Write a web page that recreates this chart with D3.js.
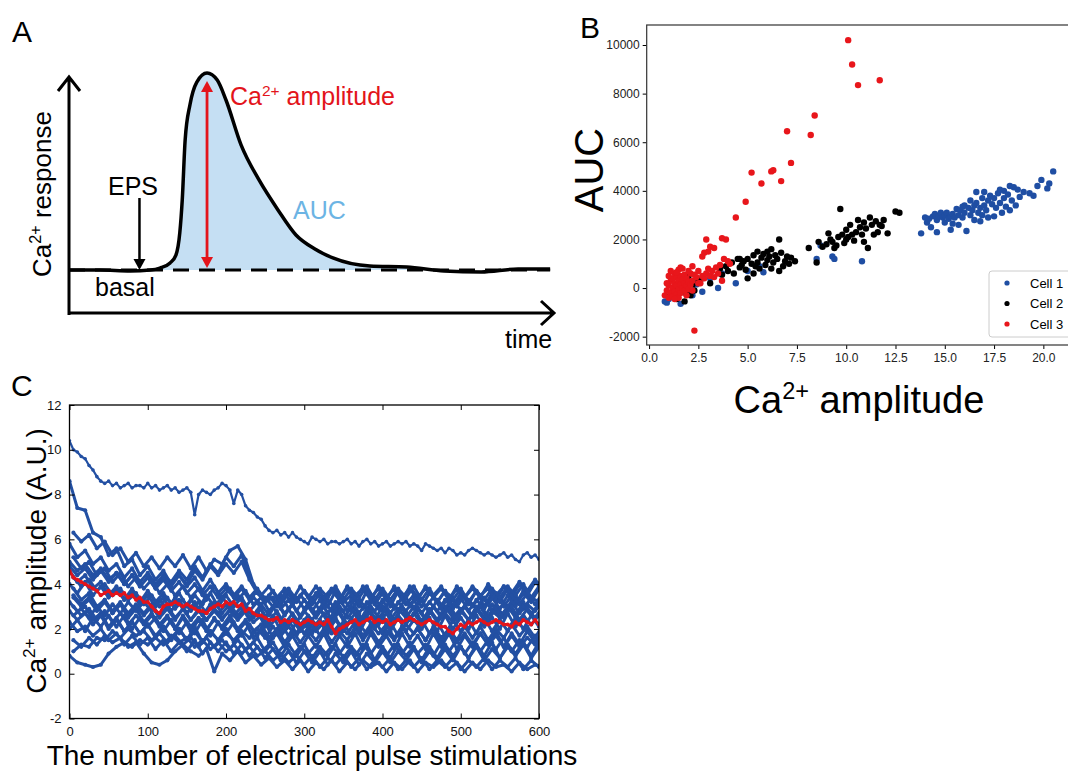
<!DOCTYPE html>
<html><head><meta charset="utf-8">
<script src="https://cdn.jsdelivr.net/npm/d3@7"></script>
<style>body{margin:0;background:#fff} svg{display:block;font-family:Arial,"Liberation Sans",sans-serif}</style>
</head><body><svg id="fig" width="1068" height="774"></svg>
<script>
// ---------- Panel A: schematic Ca2+ transient ----------
const timeA = [0,6.4,12.6,16.7,18.7,20.8,22.0,22.8,23.3,23.9,24.9,26.3,28.4,30.5,32.3,35.4,39.1,43.0,46.7,50.6,54.3,61.9,69.5,77.2,84.8,92.4,99];
const respA = [0,0,-0.005,0,0.01,0.036,0.076,0.19,0.355,0.66,0.84,0.954,1.0,0.964,0.863,0.635,0.457,0.305,0.178,0.107,0.061,0.02,0.015,-0.005,-0.01,0.005,0.005];

// ---------- Panel B: AUC vs amplitude ----------
const cellNames = ["Cell 1","Cell 2","Cell 3"];
const cellColors = ["#1f4ea3","#000000","#e8161b"];
const cell1 = [[13.8,2250],[14.0,2900],[14.1,2700],[14.2,2850],[14.3,2500],[14.4,2950],[14.5,3050],[14.6,2800],[14.6,2300],[14.7,2950],[14.8,3100],[14.9,2900],[15.0,3000],[15.0,2700],[15.1,3100],[15.2,2850],[15.3,2950],[15.3,2400],[15.4,3050],[15.5,2900],[15.6,3250],[15.7,3000],[15.7,2600],[15.8,3200],[15.9,2900],[16.0,3100],[16.0,3400],[16.1,2350],[16.2,3300],[16.3,3000],[16.3,3600],[16.4,3200],[16.5,3400],[16.5,2800],[16.6,3500],[16.6,3950],[16.7,3100],[16.8,3300],[16.8,2750],[16.9,3700],[17.0,3400],[17.0,3950],[17.1,3200],[17.2,3600],[17.3,3800],[17.4,3450],[17.5,3700],[17.5,2950],[17.6,3300],[17.7,3900],[17.8,3500],[17.9,3100],[18.0,3700],[18.0,4000],[18.1,3350],[18.2,3850],[18.3,4200],[18.4,3600],[18.5,4150],[18.6,3400],[18.7,4050],[19.0,3950],[19.3,3900],[19.5,3800],[19.7,4200],[19.9,4450],[20.2,4100],[20.3,4300],[20.5,4800],[18.3,3200],[17.2,2900],[16.9,3000],[15.9,3350],[15.4,2650],[18.8,3750],[17.8,4050],
 [0.8,-550],[0.9,-600],[1.0,-450],[1.2,-300],[1.6,-650],[2.1,-200],[2.4,150],[2.7,-150],[3.5,0],[3.7,600],[4.4,200],[5.0,700],[5.6,900],[5.8,650],[8.5,1200],[8.7,1750],[9.3,1300],[9.4,1200],[10.8,1100],[1.4,-400],[1.8,-100],[2.2,-300],[3.1,400]];
const cell2 = [[1.0,-350],[1.2,-200],[1.4,-450],[1.5,-100],[1.7,200],[1.8,-550],[1.9,0],[2.0,500],[2.1,-300],[2.2,150],[2.3,-100],[2.5,300],[2.7,400],[1.6,350],[1.3,50],[1.9,-250],[3.1,200],[3.6,800],[3.7,550],[4.0,700],[4.2,1050],[4.3,600],[4.5,1200],[4.6,850],[4.7,950],[4.8,1100],[4.9,750],[5.0,400],[5.0,1200],[5.2,1000],[5.3,1350],[5.4,900],[5.5,1500],[5.5,1050],[5.6,800],[5.7,1250],[5.8,1400],[5.9,950],[6.0,1150],[6.1,1300],[6.2,1600],[6.2,800],[6.3,1050],[6.4,1350],[6.5,1200],[6.6,2000],[6.6,700],[6.7,1450],[6.8,900],[6.9,1100],[7.0,1300],[7.1,1000],[7.2,1250],[7.4,1100],[6.0,1500],[5.3,600],[4.6,1200],[3.9,900],[8.1,1650],[8.5,1050],[8.6,1900],[8.8,1700],[9.0,1800],[9.1,2250],[9.2,2000],[9.3,1900],[9.5,1750],[9.6,2100],[9.7,3250],[9.8,2200],[9.9,1850],[10.0,2400],[10.1,2100],[10.2,2600],[10.3,2200],[10.4,1950],[10.5,2300],[10.6,2800],[10.7,2500],[10.8,2200],[10.9,2700],[11.0,2450],[11.1,1650],[11.2,2900],[11.3,2600],[11.4,2200],[11.5,2750],[11.6,2300],[11.8,2550],[11.9,2800],[12.1,2250],[12.5,3150],[12.7,3100],[10.0,2000],[9.4,1650],[11.7,2600],[10.9,1900]];
const cell3 = [[0.8,-300],[0.9,-100],[1.0,-400],[1.0,100],[1.1,-200],[1.1,300],[1.2,0],[1.2,-350],[1.2,400],[1.3,-150],[1.3,200],[1.3,600],[1.4,-250],[1.4,100],[1.4,450],[1.5,-50],[1.5,300],[1.5,-400],[1.6,150],[1.6,500],[1.6,-200],[1.7,350],[1.7,0],[1.7,800],[1.8,200],[1.8,-100],[1.8,550],[1.9,100],[1.9,400],[2.0,250],[2.0,-50],[2.1,600],[2.1,150],[2.2,900],[2.2,300],[2.3,-1750],[2.4,450],[2.5,700],[2.6,200],[2.7,500],[2.8,400],[2.9,600],[3.0,800],[3.1,500],[3.2,700],[3.4,850],[3.5,600],[3.6,950],[3.7,300],[3.8,1200],[4.0,1100],[4.1,1000],[2.8,1450],[3.0,1500],[3.1,1700],[3.3,1650],[2.7,1300],[2.9,2000],[3.7,2050],[3.9,2000],[4.4,2900],[4.9,3550],[5.2,4750],[5.7,4300],[6.2,4800],[6.3,4850],[6.7,4400],[7.0,6450],[7.2,5150],[8.2,6300],[8.4,7100],[10.1,10200],[10.3,9200],[10.6,8350],[11.7,8550],[1.1,700],[1.3,-450],[1.5,750],[1.9,-300],[2.0,700],[1.4,650],[1.0,500],[0.9,200],[1.6,850],[2.3,550],[2.5,200],[3.3,450],[2.2,-100]];
const xTicksB = [0,2.5,5,7.5,10,12.5,15,17.5,20];
const yTicksB = [-2000,0,2000,4000,6000,8000,10000];

// ---------- Panel C: amplitude over pulses ----------
const topTrace = [10.4,10.0,9.9,9.7,9.6,9.3,9.1,8.8,8.6,8.5,8.6,8.4,8.5,8.3,8.4,8.5,8.3,8.4,8.4,8.3,8.5,8.3,8.4,8.2,8.3,8.4,8.2,8.3,8.1,8.2,8.3,8.1,7.1,8.0,8.2,8.1,8.0,8.2,8.3,8.5,8.4,8.2,7.6,8.2,8.0,7.5,7.3,7.2,7.0,6.9,6.6,6.4,6.3,6.4,6.2,6.3,6.1,6.3,6.1,6.0,5.9,5.8,6.1,6.0,5.9,6.0,5.8,5.9,5.9,5.8,5.9,6.0,5.8,5.9,5.7,5.9,6.0,5.8,5.9,5.7,5.8,5.9,5.7,5.8,5.9,5.8,5.9,5.7,5.8,5.7,5.5,5.8,5.7,5.6,5.5,5.6,5.4,5.6,5.5,5.3,5.4,5.3,5.5,5.6,5.5,5.4,5.3,5.4,5.3,5.2,5.3,5.4,5.2,5.3,5.1,5.0,5.3,5.4,5.2,5.3,5.1];
const meanTrace = [4.6,4.3,4.2,4.1,4.0,3.9,3.8,3.7,3.5,3.6,3.7,3.5,3.6,3.5,3.6,3.4,3.5,3.3,3.4,3.2,3.2,3.0,2.8,2.7,3.0,3.1,3.1,3.2,3.1,3.0,3.1,3.0,2.9,2.8,2.8,2.7,2.9,3.0,3.1,3.0,3.2,3.1,3.2,3.0,3.1,2.8,2.9,2.7,2.6,2.6,2.5,2.4,2.4,2.5,2.3,2.4,2.3,2.4,2.3,2.2,2.3,2.4,2.3,2.2,2.3,2.2,2.4,2.1,1.8,2.0,2.1,2.2,2.3,2.4,2.2,2.3,2.4,2.5,2.3,2.4,2.3,2.4,2.2,2.3,2.4,2.3,2.4,2.5,2.4,2.3,2.2,2.3,2.4,2.3,2.2,2.1,2.1,1.9,1.8,2.0,2.2,2.1,2.3,2.2,2.3,2.4,2.3,2.2,2.3,2.4,2.3,2.2,2.2,2.1,2.3,2.2,2.4,2.3,2.2,2.4,2.2];
// each band trace is sampled every 10 pulses, starting at the pulse given in bandStart
const bandStart = [0,5,0,5,0,5,0,5,0,5,0,5,0,5,0,5,0,5,0,5,0];
const bandTraces = [
 [8.6,7.4,7.3,6.3,6.1,5.3,5.6,4.8,5.1,4.4,4.8,4.2,4.6,4.0,4.4,3.9,4.3,3.7,4.2,3.6,4.0,3.5,3.9,3.4,3.8,3.3,3.7,3.1,3.6,3.2,3.7,3.1,3.6,3.0,3.7,3.2,3.5,3.0,3.7,3.1,3.6,3.0,3.7,3.1,3.5,3.0,3.6,3.2,3.7,3.0,3.6,3.1,3.7,3.0,3.6,3.2,3.8,3.1,3.7,3.3,3.8],
 [6.3,5.9,6.2,5.6,5.9,5.3,5.6,5.0,5.4,4.8,5.2,4.7,5.2,4.8,5.3,4.7,5.2,4.6,5.1,4.9,5.5,5.7,5.1,4.0,3.5,3.9,3.4,3.8,3.3,3.9,3.4,3.9,3.4,3.8,3.3,3.9,3.5,3.8,3.3,3.9,3.4,3.8,3.3,3.9,3.4,3.8,3.5,3.9,3.3,3.8,3.4,3.9,3.5,3.8,3.3,3.9,3.4,4.0,3.5,4.1,3.8],
 [5.8,5.2,5.5,4.9,5.2,4.6,4.9,4.3,4.7,4.1,4.5,4.0,4.4,4.1,4.6,4.2,4.8,4.3,4.9,4.5,5.2,4.8,5.3,4.3,3.6,3.4,3.0,3.5,2.9,3.4,2.9,3.4,2.8,3.3,2.9,3.4,2.8,3.3,2.9,3.4,2.8,3.3,2.8,3.4,2.9,3.3,2.7,3.3,2.9,3.4,2.8,3.3,2.9,3.4,2.8,3.4,3.0,3.5,2.9,3.4,3.2],
 [5.2,4.7,5.0,4.4,4.7,4.1,4.5,3.9,4.3,3.8,4.2,3.6,4.0,3.5,3.9,3.4,3.8,3.3,3.9,3.4,3.8,3.3,3.7,3.1,3.4,2.8,3.2,2.6,3.1,2.5,3.0,2.5,3.0,2.4,3.0,2.5,2.9,2.4,3.0,2.5,2.9,2.4,3.0,2.5,2.9,2.4,3.0,2.6,3.1,2.5,3.0,2.6,3.1,2.5,3.0,2.6,3.2,2.7,3.1,2.8,3.2],
 [4.6,4.1,4.4,3.8,4.1,3.5,3.9,3.3,3.6,3.1,3.5,3.0,3.4,2.8,3.3,2.7,3.2,2.6,3.1,2.7,3.1,2.6,3.0,2.4,2.8,2.1,2.6,1.9,2.4,1.8,2.4,1.9,2.4,1.8,2.5,1.9,2.4,1.8,2.5,2.0,2.5,1.9,2.5,1.9,2.4,2.0,2.5,1.9,2.6,2.0,2.5,2.0,2.6,2.1,2.5,2.0,2.7,2.1,2.6,2.2,2.6],
 [3.8,3.3,3.6,3.0,3.3,2.7,3.1,2.5,2.9,2.3,2.7,2.2,2.6,2.0,2.5,1.9,2.4,1.9,2.5,2.0,2.4,1.9,2.3,1.6,2.0,1.4,1.8,1.2,1.7,1.1,1.7,1.2,1.8,1.1,1.7,1.2,1.8,1.1,1.8,1.2,1.7,1.1,1.8,1.2,1.7,1.1,1.8,1.2,1.8,1.1,1.7,1.2,1.8,1.3,1.9,1.2,1.8,1.3,1.9,1.4,1.9],
 [3.2,2.8,3.0,2.4,2.7,2.1,2.5,1.9,2.3,1.8,2.2,1.6,2.1,1.5,2.0,1.5,2.1,1.4,1.9,1.5,2.0,1.4,1.8,1.2,1.6,1.0,1.4,0.8,1.3,0.8,1.3,0.7,1.2,0.8,1.3,0.7,1.2,0.8,1.3,0.6,1.2,0.7,1.3,0.8,1.2,0.6,1.2,0.7,1.3,0.8,1.2,0.7,1.3,0.8,1.4,0.7,1.3,0.9,1.4,0.8,1.4],
 [2.6,2.9,2.5,3.0,2.6,3.1,2.7,3.2,2.8,3.2,2.8,3.3,2.9,3.4,2.9,3.3,2.9,3.5,3.0,3.4,3.0,3.5,3.0,3.4,3.1,3.5,3.0,3.6,3.1,3.5,3.1,3.6,3.2,3.7,3.3,3.8,3.3,3.9,3.4,3.8,3.3,3.9,3.4,3.8,3.3,3.9,3.4,3.8,3.3,3.9,3.4,3.8,3.4,4.0,3.5,3.9,3.6,4.1,3.7,4.2,3.8],
 [2.0,2.4,1.9,2.5,2.1,2.6,2.1,2.6,2.0,2.5,2.1,2.5,1.9,2.4,1.8,2.3,1.8,2.4,1.7,2.3,1.8,2.3,1.7,2.2,1.7,2.3,1.6,2.2,1.7,2.3,1.8,2.3,1.7,2.2,1.8,2.3,1.7,2.2,1.8,2.4,1.8,2.3,1.7,2.2,1.8,2.4,1.8,2.3,1.7,2.4,1.9,2.4,1.8,2.5,1.9,2.4,1.9,2.5,2.0,2.6,2.1],
 [1.0,1.3,1.2,1.6,1.5,1.9,1.6,2.0,1.7,1.9,1.5,1.8,1.4,1.7,1.3,1.6,1.2,1.6,1.2,1.5,1.1,1.5,1.1,1.4,1.0,1.3,0.9,1.3,0.8,1.2,0.9,1.3,0.8,1.2,0.9,1.4,0.8,1.3,0.9,1.4,0.8,1.3,0.9,1.4,0.9,1.3,0.8,1.4,1.0,1.5,0.9,1.4,1.0,1.5,1.1,1.6,1.0,1.5,1.2,1.7,1.3],
 [0.8,0.5,0.4,0.3,0.4,0.9,1.2,1.4,1.2,1.5,1.3,1.6,1.3,1.7,1.4,1.6,1.2,1.5,1.1,1.4,1.0,1.3,0.9,1.2,0.8,1.0,0.6,0.9,0.5,0.8,0.4,0.8,0.3,0.7,0.4,0.8,0.3,0.7,0.2,0.6,0.3,0.7,0.2,0.6,0.3,0.7,0.2,0.6,0.3,0.7,0.2,0.6,0.3,0.7,0.2,0.6,0.3,0.7,0.2,0.6,0.3],
 [1.5,1.2,1.6,1.3,1.7,1.4,1.6,1.2,1.4,0.9,0.5,0.4,0.6,1.0,1.3,1.0,0.8,1.1,0.1,0.9,0.6,1.0,0.5,0.8,0.4,0.7,0.3,0.6,0.2,0.6,0.1,0.5,0.2,0.6,0.1,0.5,0.2,0.6,0.3,0.5,0.1,0.5,0.2,0.6,0.1,0.5,0.3,0.6,0.2,0.5,0.1,0.5,0.2,0.6,0.3,0.4,0.1,0.5,0.2,0.4,0.3],
 [4.0,3.6,4.1,3.5,3.9,3.4,3.8,3.3,3.8,3.2,3.7,3.2,3.6,3.1,3.6,3.0,3.5,3.1,3.6,3.0,3.5,3.0,3.4,2.8,3.2,2.5,3.0,2.4,2.9,2.3,2.8,2.4,2.9,2.3,2.9,2.4,3.0,2.3,2.9,2.4,3.0,2.4,2.9,2.5,3.0,2.3,2.9,2.4,3.0,2.5,2.9,2.4,3.0,2.5,3.1,2.5,3.0,2.6,3.2,2.7,3.1],
 [3.0,2.6,2.9,2.4,2.8,2.3,2.7,2.2,2.6,2.2,2.6,2.1,2.5,2.0,2.6,2.1,2.5,2.0,2.4,2.1,2.6,2.0,2.4,1.9,2.2,1.6,2.0,1.4,1.9,1.4,1.9,1.5,2.0,1.4,1.9,1.5,2.1,1.5,2.0,1.4,1.9,1.5,2.1,1.6,2.0,1.5,2.1,1.6,2.0,1.5,2.1,1.6,2.1,1.5,2.0,1.6,2.2,1.7,2.1,1.6,2.2],
 [5.0,4.6,4.9,4.4,4.7,4.2,4.5,4.0,4.4,3.9,4.3,3.8,4.3,3.9,4.4,4.0,4.6,4.2,4.8,4.4,4.9,4.5,5.0,4.2,3.6,3.2,3.4,2.9,3.3,2.8,3.3,2.8,3.3,2.7,3.2,2.8,3.3,2.7,3.2,2.8,3.3,2.7,3.2,2.8,3.3,2.7,3.2,2.8,3.3,2.9,3.4,2.8,3.3,2.9,3.4,2.9,3.5,3.0,3.6,3.2,3.8],
 [3.5,3.1,3.4,2.9,3.3,2.8,3.2,2.7,3.1,2.7,3.1,2.6,3.0,2.5,2.9,2.4,2.9,2.4,2.8,2.4,2.9,2.5,3.0,2.6,3.1,2.6,3.2,2.7,3.1,2.6,3.1,2.7,3.2,2.8,3.3,2.8,3.4,2.9,3.3,2.9,3.4,2.9,3.4,3.0,3.5,3.0,3.4,2.9,3.5,3.0,3.5,3.0,3.5,3.1,3.6,3.0,3.5,3.1,3.6,3.1,3.6],
 [2.8,2.4,2.7,2.2,2.6,2.0,2.4,1.9,2.3,1.8,2.2,1.7,2.1,1.6,2.0,1.5,1.9,1.4,1.9,1.5,1.8,1.5,1.9,1.6,2.0,1.6,2.1,1.7,2.1,1.7,2.2,1.8,2.3,1.9,2.4,1.9,2.5,2.0,2.5,2.1,2.6,2.1,2.6,2.2,2.7,2.2,2.8,2.3,2.7,2.3,2.8,2.4,2.9,2.4,2.8,2.5,3.0,2.5,3.0,2.6,3.1],
 [4.3,3.9,4.2,3.7,4.0,3.5,3.8,3.3,3.6,3.1,3.5,3.0,3.4,2.9,3.3,2.8,3.2,2.7,3.2,2.7,3.1,2.6,3.0,2.5,2.9,2.3,2.8,2.2,2.7,2.2,2.6,2.2,2.7,2.3,2.8,2.2,2.7,2.3,2.8,2.2,2.7,2.4,2.9,2.4,2.9,2.5,3.0,2.5,2.9,2.4,3.0,2.5,3.0,2.4,2.9,2.5,3.0,2.4,2.9,2.5,3.0],
 [2.3,1.9,2.1,1.7,2.0,1.5,1.8,1.3,1.7,1.3,1.6,1.1,1.5,1.0,1.4,1.0,1.5,0.9,1.4,1.0,1.4,0.9,1.3,0.8,1.2,0.7,1.1,0.6,1.0,0.5,1.0,0.5,1.0,0.4,0.9,0.5,1.0,0.4,0.9,0.5,1.0,0.5,1.0,0.6,1.1,0.5,1.0,0.6,1.1,0.6,1.2,0.7,1.2,0.6,1.1,0.7,1.2,0.8,1.3,0.7,1.2],
 [3.4,3.0,3.3,2.8,3.2,2.7,3.1,2.7,3.0,2.6,3.0,2.5,2.9,2.4,2.9,2.4,2.8,2.4,2.9,2.5,2.8,2.4,2.8,2.3,2.6,2.1,2.5,2.0,2.4,1.9,2.3,1.9,2.3,1.8,2.2,1.8,2.3,1.7,2.2,1.8,2.2,1.6,2.1,1.6,2.0,1.5,2.0,1.4,1.9,1.4,1.8,1.3,1.8,1.3,1.7,1.2,1.7,1.2,1.6,1.3,1.6],
 [4.8,4.4,4.7,4.2,4.6,4.1,4.5,4.0,4.4,3.9,4.3,3.8,4.2,3.7,4.1,3.6,4.0,3.5,3.9,3.4,3.8,3.4,3.8,3.3,3.7,3.2,3.7,3.2,3.8,3.3,3.7,3.3,3.8,3.4,3.9,3.3,3.8,3.4,3.9,3.3,3.8,3.3,3.8,3.4,3.9,3.3,3.8,3.2,3.7,3.3,3.8,3.2,3.7,3.3,3.8,3.4,3.9,3.5,4.0,3.4,3.9]
];
const xTicksC = [0,100,200,300,400,500,600];
const yTicksC = [-2,0,2,4,6,8,10,12];

const svg = d3.select("#fig");
const RED = "#e3141b";

// text with superscripts; the baseline is restored on the following tspan
function supText(g, x, y, parts, opts) {
  const t = g.append("text").attr("x", x).attr("y", y)
    .attr("font-size", opts.size).attr("fill", opts.fill || "#000")
    .attr("text-anchor", opts.anchor || "start");
  if (opts.rotate) t.attr("transform", `rotate(-90,${x},${y})`);
  const shift = opts.size * 0.38;
  let pending = 0;
  parts.forEach(p => {
    if (p.sup) {
      t.append("tspan").attr("font-size", opts.size * 0.62).attr("dy", -shift + pending).text(p.sup);
      pending = shift;
    } else {
      t.append("tspan").attr("dy", pending).text(p.t);
      pending = 0;
    }
  });
  return t;
}

// ================= Panel A =================
const gA = svg.append("g");
const xA = d3.scaleLinear().domain([0, 100]).range([69, 555]);
const yA = d3.scaleLinear().domain([0, 1]).range([270, 73]);
const ptsA = timeA.map((t, i) => [t, respA[i]]);
const fillPts = ptsA.filter(d => d[0] >= 16.7 && d[0] <= 69.5);
gA.append("path")
  .attr("d", d3.area().x(d => xA(d[0])).y0(yA(0)).y1(d => yA(Math.max(0, d[1]))).curve(d3.curveMonotoneX)(fillPts))
  .attr("fill", "#c5dff3");
gA.append("line").attr("x1", xA(0)).attr("x2", xA(99)).attr("y1", yA(0)).attr("y2", yA(0))
  .attr("stroke", "#000").attr("stroke-width", 3).attr("stroke-dasharray", "16,10");
gA.append("path")
  .attr("d", d3.line().x(d => xA(d[0])).y(d => yA(d[1])).curve(d3.curveMonotoneX)(ptsA))
  .attr("fill", "none").attr("stroke", "#000").attr("stroke-width", 3.5).attr("stroke-linejoin", "round");
gA.append("path").attr("d", "M69,315 L69,77 M58,91 L69,77 L80,91").attr("fill", "none").attr("stroke", "#000").attr("stroke-width", 3);
gA.append("path").attr("d", "M68,313 L553,313 M541,301 L554,313 L541,325").attr("fill", "none").attr("stroke", "#000").attr("stroke-width", 3);
const xPeak = xA(28.4);
gA.append("line").attr("x1", xPeak).attr("x2", xPeak).attr("y1", yA(1) + 16).attr("y2", yA(0) - 12).attr("stroke", RED).attr("stroke-width", 2.8);
gA.append("path").attr("d", `M${xPeak - 6},${yA(1) + 19} L${xPeak},${yA(1) + 8} L${xPeak + 6},${yA(1) + 19} Z`).attr("fill", RED);
gA.append("path").attr("d", `M${xPeak - 6},${yA(0) - 13} L${xPeak},${yA(0) - 2} L${xPeak + 6},${yA(0) - 13} Z`).attr("fill", RED);
const xEPS = xA(14.5);
gA.append("line").attr("x1", xEPS).attr("x2", xEPS).attr("y1", 198).attr("y2", 262).attr("stroke", "#000").attr("stroke-width", 2.5);
gA.append("path").attr("d", `M${xEPS - 6},${259} L${xEPS},${270} L${xEPS + 6},${259} Z`).attr("fill", "#000");
gA.append("text").attr("x", 12).attr("y", 42).attr("font-size", 30).text("A");
gA.append("text").attr("x", 108).attr("y", 195).attr("font-size", 25).text("EPS");
gA.append("text").attr("x", 95).attr("y", 296).attr("font-size", 25).text("basal");
gA.append("text").attr("x", 293).attr("y", 219).attr("font-size", 25).attr("fill", "#6cb4e4").text("AUC");
gA.append("text").attr("x", 505).attr("y", 348).attr("font-size", 25).text("time");
supText(gA, 230, 105, [{t: "Ca"}, {sup: "2+"}, {t: " amplitude"}], {size: 25, fill: RED});
supText(gA, 51, 194, [{t: "Ca"}, {sup: "2+"}, {t: " response"}], {size: 26, anchor: "middle", rotate: true});

// ================= Panel B =================
const gB = svg.append("g");
const xB = d3.scaleLinear().domain([-0.12, 21.25]).range([646.7, 1068]);
const yB = d3.scaleLinear().domain([-2343, 10823]).range([345, 25]);
gB.append("g").attr("transform", "translate(646.7,0)")
  .call(d3.axisLeft(yB).tickValues(yTicksB).tickSize(4).tickPadding(3).tickFormat(d => String(d)))
  .call(a => a.select(".domain").remove())
  .call(a => a.selectAll("text").attr("font-size", 12).attr("font-family", "Arial,Liberation Sans").attr("fill", "#222"));
gB.append("g").attr("transform", "translate(0,345)")
  .call(d3.axisBottom(xB).tickValues(xTicksB).tickSize(4).tickPadding(4).tickFormat(d3.format(".1f")))
  .call(a => a.select(".domain").remove())
  .call(a => a.selectAll("text").attr("font-size", 12).attr("font-family", "Arial,Liberation Sans").attr("fill", "#222"));
gB.append("rect").attr("x", 646.7).attr("y", 25).attr("width", 430).attr("height", 320)
  .attr("fill", "none").attr("stroke", "#333").attr("stroke-width", 1.2);
[cell1, cell2, cell3].forEach((arr, k) => {
  gB.append("g").selectAll("circle").data(arr).join("circle")
    .attr("cx", d => xB(d[0])).attr("cy", d => yB(d[1])).attr("r", 3.2).attr("fill", cellColors[k]);
});
gB.append("rect").attr("x", 989).attr("y", 271).attr("width", 90).attr("height", 66).attr("rx", 3)
  .attr("fill", "#fff").attr("stroke", "#ccc");
cellNames.forEach((n, k) => {
  const yy = 283 + k * 20.5;
  gB.append("circle").attr("cx", 1007).attr("cy", yy).attr("r", 2.6).attr("fill", cellColors[k]);
  gB.append("text").attr("x", 1030).attr("y", yy + 4.5).attr("font-size", 13).text(n);
});
gB.append("text").attr("x", 580).attr("y", 38).attr("font-size", 30).text("B");
gB.append("text").attr("x", 603).attr("y", 170).attr("font-size", 40).attr("text-anchor", "middle")
  .attr("transform", "rotate(-90,603,170)").text("AUC");
supText(gB, 859, 413, [{t: "Ca"}, {sup: "2+"}, {t: " amplitude"}], {size: 38, anchor: "middle"});

// ================= Panel C =================
const gC = svg.append("g");
const xC = d3.scaleLinear().domain([0, 600]).range([69.5, 539]);
const yC = d3.scaleLinear().domain([-2, 12]).range([718.5, 405]);
svg.append("defs").append("clipPath").attr("id", "clipC").append("rect")
  .attr("x", 69.5).attr("y", 405).attr("width", 469.5).attr("height", 313.5);
const plotC = gC.append("g").attr("clip-path", "url(#clipC)");
function drawTrace(arr, start, step, color, w, r) {
  const pts = arr.map((v, i) => [start + i * step, v]);
  plotC.append("path").attr("d", d3.line().x(d => xC(d[0])).y(d => yC(d[1]))(pts))
    .attr("fill", "none").attr("stroke", color).attr("stroke-width", w).attr("stroke-linejoin", "round");
  plotC.append("g").selectAll("circle").data(pts).join("circle")
    .attr("cx", d => xC(d[0])).attr("cy", d => yC(d[1])).attr("r", r).attr("fill", color);
}
const BLUE = "#2350a3";
bandTraces.forEach((tr, k) => drawTrace(tr, bandStart[k], 10, BLUE, 3.0, 2.1));
drawTrace(topTrace, 0, 5, BLUE, 2.2, 1.8);
drawTrace(meanTrace, 0, 5, RED, 2.8, 2.0);
const styleC = a => {
  a.select(".domain").remove();
  a.selectAll("line").attr("stroke", "#000");
  a.selectAll("text").attr("font-size", 13).attr("font-family", "Arial,Liberation Sans").attr("fill", "#111");
};
gC.append("g").attr("transform", "translate(69.5,0)")
  .call(d3.axisLeft(yC).tickValues(yTicksC).tickSize(-5).tickPadding(8).tickFormat(d => String(d))).call(styleC);
gC.append("g").attr("transform", "translate(539,0)")
  .call(d3.axisRight(yC).tickValues(yTicksC).tickSize(-5).tickFormat("")).call(styleC);
gC.append("g").attr("transform", "translate(0,718.5)")
  .call(d3.axisBottom(xC).tickValues(xTicksC).tickSize(-5).tickPadding(8)).call(styleC);
gC.append("g").attr("transform", "translate(0,405)")
  .call(d3.axisTop(xC).tickValues(xTicksC).tickSize(-5).tickFormat("")).call(styleC);
gC.append("rect").attr("x", 69.5).attr("y", 405).attr("width", 469.5).attr("height", 313.5)
  .attr("fill", "none").attr("stroke", "#000").attr("stroke-width", 1.3);
gC.append("text").attr("x", 11).attr("y", 396).attr("font-size", 30).text("C");
supText(gC, 46, 561, [{t: "Ca"}, {sup: "2+"}, {t: " amplitude (A.U.)"}], {size: 28, anchor: "middle", rotate: true});
gC.append("text").attr("x", 312).attr("y", 765).attr("font-size", 28).attr("text-anchor", "middle")
  .text("The number of electrical pulse stimulations");
</script></body></html>
